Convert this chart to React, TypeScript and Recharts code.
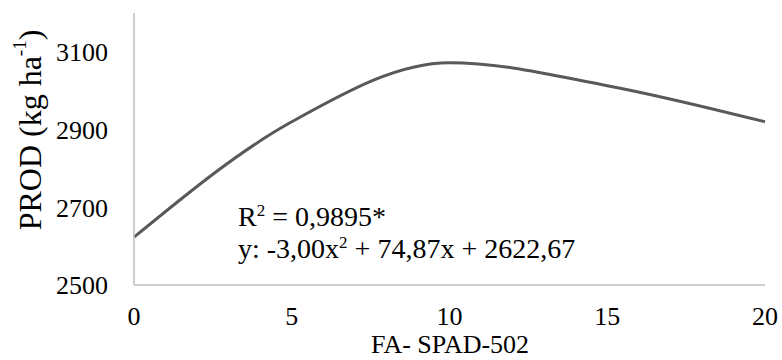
import React from 'react';
import { LineChart, Line, XAxis, YAxis, Customized } from 'recharts';

const xValues = [0, 5, 10, 15, 20];
const prodValues = [2623, 2920, 3072, 3013, 2920];
const xTicks = [0, 5, 10, 15, 20];
const yTicks = [2500, 2700, 2900, 3100];
const r2Text = 'R';
const r2Value = ' = 0,9895*';
const eqParts = ['y: -3,00x', ' + 74,87x + 2622,67'];

const data = xValues.map((x, i) => ({ x, prod: prodValues[i] }));

const FONT = "'Liberation Serif', Tinos, 'Noto Serif', 'DejaVu Serif', serif";
const FS = 28;
const TICK_FS = 26;
const SUP = 17;
const textStyle = { fontFamily: FONT, fontSize: FS };
const tickStyle = { fontFamily: FONT, fontSize: TICK_FS };

const YTitle = () => {
  const x = 30;
  const y = 130;
  return (
    <text x={x} y={y} transform={`rotate(-90, ${x}, ${y})`} textAnchor="middle" style={{ fontFamily: FONT, fontSize: 32 }} fill="#000" dominantBaseline="central">
      <tspan>PROD (kg ha</tspan>
      <tspan style={{ fontSize: 19 }} dy={-11}>-1</tspan>
      <tspan dy={11}>)</tspan>
    </text>
  );
};

const XTitle = () => (
  <text x={450} y={353} textAnchor="middle" style={tickStyle} fill="#000">FA- SPAD-502</text>
);

const Annotation = () => (
  <g style={textStyle} fill="#000">
    <text x={238} y={226} style={textStyle}>
      <tspan>{r2Text}</tspan>
      <tspan style={{ fontSize: SUP }} dy={-10}>2</tspan>
      <tspan dy={10}>{r2Value}</tspan>
    </text>
    <text x={238} y={258} style={textStyle}>
      <tspan>{eqParts[0]}</tspan>
      <tspan style={{ fontSize: SUP }} dy={-10}>2</tspan>
      <tspan dy={10}>{eqParts[1]}</tspan>
    </text>
  </g>
);

export default function App() {
  return (
    <div style={{ position: 'absolute', left: 0, top: 0, width: 782, height: 360, background: '#fff', fontFamily: FONT }}>
      <LineChart width={782} height={360} data={data} margin={{ top: 13, right: 17, left: 0, bottom: 0 }} style={{ fontFamily: FONT }}>
        <XAxis
          dataKey="x"
          type="number"
          domain={[0, 20]}
          ticks={xTicks}
          tickLine={false}
          tickSize={0}
          tickMargin={22}
          height={75}
          axisLine={{ stroke: '#BFBFBF', strokeWidth: 1.5 }}
          tick={{ fontSize: TICK_FS, fill: '#000', style: tickStyle }}
          interval={0}
        />
        <YAxis
          type="number"
          domain={[2500, 3200]}
          ticks={yTicks}
          tickLine={false}
          tickSize={0}
          tickMargin={26}
          width={134}
          axisLine={{ stroke: '#BFBFBF', strokeWidth: 1.5 }}
          tick={{ fontSize: TICK_FS, fill: '#000', style: tickStyle }}
          interval={0}
          allowDataOverflow
        />
        <Line
          type="monotone"
          dataKey="prod"
          stroke="#595959"
          strokeWidth={3}
          dot={false}
          activeDot={false}
          isAnimationActive={false}
        />
        <Customized component={YTitle} />
        <Customized component={XTitle} />
        <Customized component={Annotation} />
      </LineChart>
    </div>
  );
}
